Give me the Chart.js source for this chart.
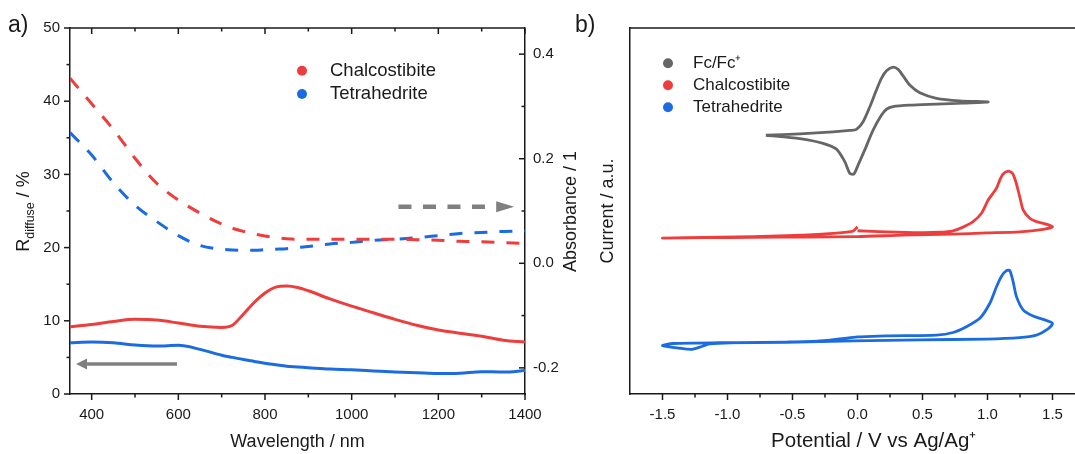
<!DOCTYPE html>
<html>
<head>
<meta charset="utf-8">
<title>Reflectance, absorbance and cyclic voltammetry</title>
<script src="https://cdn.jsdelivr.net/npm/chart.js@4.4.1/dist/chart.umd.min.js"></script>
<style>
  html, body { margin: 0; padding: 0; background: #fff; overflow: hidden; }
  body { width: 1075px; height: 454px; position: relative; }
  canvas { position: absolute; top: 0; }
  #panelA { left: 0; }
  #panelB { left: 540px; }
</style>
</head>
<body>
<canvas id="panelA" width="600" height="454"></canvas>
<canvas id="panelB" width="600" height="454"></canvas>
<script>
// ── Panel a: diffuse reflectance (left axis) and absorbance (right axis) ──

const WAVELENGTH = [350, 400, 450, 500, 550, 600, 650, 700, 725, 750, 775, 800, 825,
  850, 875, 900, 950, 1000, 1050, 1100, 1150, 1200, 1250, 1300, 1350, 1400];
const CHALCO_REFL = [9.2, 9.5, 9.9, 10.2, 10.1, 9.7, 9.25, 9.1, 9.4, 10.9, 12.5, 13.8, 14.6,
  14.75, 14.55, 14.1, 13.0, 12.0, 11.1, 10.2, 9.4, 8.75, 8.3, 7.9, 7.35, 7.1];
const TETRA_REFL = [7.0, 7.1, 7.0, 6.7, 6.55, 6.65, 6.1, 5.3, 5.0, 4.7, 4.45, 4.2, 4.0,
  3.8, 3.7, 3.6, 3.4, 3.3, 3.15, 3.0, 2.9, 2.8, 2.85, 3.05, 3.0, 3.2];
const CHALCO_ABS = [0.354, 0.305, 0.256, 0.201, 0.153, 0.121, 0.096, 0.075, 0.067, 0.061, 0.056, 0.052, 0.049,
  0.047, 0.046, 0.046, 0.046, 0.046, 0.046, 0.046, 0.045, 0.044, 0.042, 0.041, 0.0395, 0.038];
const TETRA_ABS = [0.250, 0.207, 0.154, 0.111, 0.080, 0.053, 0.034, 0.027, 0.0255, 0.025, 0.025, 0.026, 0.027,
  0.028, 0.030, 0.032, 0.037, 0.040, 0.044, 0.046, 0.049, 0.053, 0.057, 0.059, 0.061, 0.062];

const WL_TICKS = [400, 600, 800, 1000, 1200, 1400];
const WL_MINOR = [500, 700, 900, 1100, 1300];
const REFL_TICKS = [0, 10, 20, 30, 40, 50];
const REFL_MINOR = [5, 15, 25, 35, 45];
const ABS_TICKS = [-0.2, 0, 0.2, 0.4];
const ABS_MINOR = [-0.1, 0.1, 0.3];

// ── Panel b: cyclic voltammograms (potential V, current a.u.) ──

const FC_V = [-0.705, -0.444, -0.188, -0.059, -0.008, 0.043, 0.095, 0.146, 0.185, 0.223, 0.274, 0.312,
  0.351, 0.402, 0.479, 0.608, 0.787, 1.005, 0.812, 0.608, 0.402, 0.274, 0.223, 0.185, 0.120, 0.056,
  0.005, -0.028, -0.059, -0.098, -0.162, -0.265, -0.444, -0.705];
const FC_I = [70.7, 71.1, 71.6, 72.0, 72.3, 74.4, 78.5, 83.1, 86.3, 88.3, 89.3, 88.7,
  86.9, 84.4, 82.3, 80.8, 80.1, 79.8, 79.5, 79.2, 78.9, 78.5, 77.8, 76.2, 72.1, 66.7,
  62.6, 60.1, 60.3, 63.5, 66.9, 68.5, 69.8, 70.7];

const CHALCO_V = [0.00, 0.223, 0.479, 0.633, 0.735, 0.812, 0.889, 0.954, 1.005, 1.069, 1.095, 1.120,
  1.158, 1.192, 1.218, 1.248, 1.274, 1.325, 1.377, 1.441, 1.50, 1.428, 1.248, 0.992, 0.735, 0.351,
  0.00, -0.418, -0.803, -1.188, -1.50, -1.315, -0.803, -0.418, -0.188, -0.034, 0.00];
const CHALCO_I = [44.6, 44.3, 44.1, 44.2, 44.6, 45.6, 47.1, 49.4, 53.0, 56.2, 58.5, 60.1,
  60.9, 60.3, 58.0, 53.9, 50.3, 48.0, 47.1, 46.5, 45.7, 45.0, 44.3, 44.0, 43.7, 43.4,
  43.0, 42.9, 42.8, 42.7, 42.6, 42.7, 43.0, 43.4, 43.9, 44.5, 45.7];

const TETRA_V = [0.00, 0.223, 0.608, 0.735, 0.838, 0.941, 1.018, 1.069, 1.108, 1.146, 1.172, 1.197,
  1.223, 1.274, 1.351, 1.428, 1.50, 1.454, 1.377, 1.248, 0.992, 0.479, -0.034, -0.546, -1.059,
  -1.418, -1.50, -1.367, -1.277, -1.213, -1.136, -0.931, -0.546, -0.290, 0.00];
const TETRA_I = [15.6, 15.9, 16.1, 16.8, 18.4, 20.7, 24.8, 29.3, 32.2, 33.7, 33.7, 30.7,
  26.6, 23.0, 21.3, 20.4, 19.3, 17.5, 16.1, 15.4, 15.0, 14.8, 14.5, 14.1, 14.0,
  13.8, 13.2, 12.5, 12.2, 12.8, 13.7, 14.0, 14.2, 14.5, 15.6];

const POT_TICKS = [-1.5, -1, -0.5, 0, 0.5, 1, 1.5];
const POT_MINOR = [-1.25, -0.75, -0.25, 0.25, 0.75, 1.25, 1.75];

// ── Styling ────────────────────────────────────────────────────────

const FONT = "'Liberation Sans', Arial, Helvetica, sans-serif";
const INK = '#1a1a1a';
const RED = '#ee3d3d';
const BLUE = '#1c6be0';
const GREY = '#666666';
const ARROW_GREY = '#808080';

Chart.defaults.font.family = FONT;
Chart.defaults.color = INK;

// guide arrows: which axis each one belongs to
const ARROWS = [
  { yScale: 'abs', from: 1108, to: 1375, y: 0.108, dashed: true },
  { yScale: 'refl', from: 597, to: 364, y: 4.1, dashed: false },
];

const pts = (xs, ys) => xs.map((x, i) => ({ x, y: ys[i] }));
const fixedTicks = values => scale => { scale.ticks = values.map(value => ({ value })); };

// ── Drawing helpers ────────────────────────────────────────────────

const OUTWARD = { bottom: [0, 1], top: [0, -1], left: [-1, 0], right: [1, 0] };

function drawTicks(ctx, chart, { scale, side, inward, major, minor }) {
  const area = chart.chartArea;
  const s = chart.scales[scale];
  const [dx, dy] = OUTWARD[side];
  const sign = inward ? -1 : 1;
  const edge = area[side];
  const mark = len => v => {
    const p = s.getPixelForValue(v);
    const x = dx ? edge : p;
    const y = dy ? edge : p;
    ctx.beginPath();
    ctx.moveTo(x, y);
    ctx.lineTo(x + dx * sign * len, y + dy * sign * len);
    ctx.stroke();
  };
  major.forEach(mark(6));
  minor.forEach(mark(3.5));
}

function frame(tickSpecs) {
  return {
    id: 'frame',
    afterDraw(chart) {
      const { ctx, chartArea: a } = chart;
      ctx.save();
      ctx.strokeStyle = INK;
      ctx.lineWidth = 1.5;
      ctx.beginPath();
      ctx.moveTo(a.left, a.top);
      ctx.lineTo(a.right, a.top);
      ctx.stroke();
      tickSpecs.forEach(spec => drawTicks(ctx, chart, spec));
      ctx.restore();
    },
  };
}

function drawLegend(ctx, items, { x, y, gap, textX, size }) {
  ctx.save();
  ctx.font = `${size}px ${FONT}`;
  ctx.textBaseline = 'middle';
  ctx.textAlign = 'left';
  items.forEach((it, i) => {
    const cy = y + i * gap;
    ctx.fillStyle = it.color;
    ctx.beginPath();
    ctx.arc(x, cy, 5, 0, Math.PI * 2);
    ctx.fill();
    ctx.fillStyle = INK;
    ctx.fillText(it.label, textX, cy);
  });
  ctx.restore();
}

// vertical text reading bottom-to-top, centred on (cx, cy); parts allow a subscript
function drawRotated(ctx, cx, cy, parts) {
  ctx.save();
  ctx.translate(cx, cy);
  ctx.rotate(-Math.PI / 2);
  ctx.textBaseline = 'alphabetic';
  ctx.textAlign = 'left';
  ctx.fillStyle = INK;
  const widths = parts.map(p => { ctx.font = `${p.size}px ${FONT}`; return ctx.measureText(p.text).width; });
  let x = -widths.reduce((s, w) => s + w, 0) / 2;
  parts.forEach((p, i) => {
    ctx.font = `${p.size}px ${FONT}`;
    ctx.fillText(p.text, x, p.dy);
    x += widths[i];
  });
  ctx.restore();
}

function drawArrow(ctx, chart, { yScale, from, to, y, dashed }) {
  const xs = chart.scales.x;
  const ys = chart.scales[yScale];
  const x1 = xs.getPixelForValue(from);
  const x2 = xs.getPixelForValue(to);
  const py = ys.getPixelForValue(y);
  const dir = Math.sign(x2 - x1);
  const head = dashed ? 18 : 11;
  const half = 5.5;
  ctx.save();
  ctx.strokeStyle = ARROW_GREY;
  ctx.fillStyle = ARROW_GREY;
  ctx.lineWidth = dashed ? 4.5 : 3.5;
  ctx.setLineDash(dashed ? [13, 11.5] : []);
  ctx.beginPath();
  ctx.moveTo(x1, py);
  ctx.lineTo(x2 - dir * head, py);
  ctx.stroke();
  ctx.setLineDash([]);
  ctx.beginPath();
  ctx.moveTo(x2, py);
  ctx.lineTo(x2 - dir * head, py - half);
  ctx.lineTo(x2 - dir * head, py + half);
  ctx.closePath();
  ctx.fill();
  ctx.restore();
}

function drawLetter(ctx, text, x, y) {
  ctx.save();
  ctx.font = `23px ${FONT}`;
  ctx.fillStyle = INK;
  ctx.textBaseline = 'alphabetic';
  ctx.fillText(text, x, y);
  ctx.restore();
}

const tickFont = { size: 15 };
const noGrid = { display: false, drawTicks: false };
const axisLine = { display: true, color: INK, width: 1.5 };

// ── Panel a chart ──────────────────────────────────────────────────

new Chart(document.getElementById('panelA'), {
  type: 'line',
  data: {
    datasets: [
      { label: 'Chalcostibite', data: pts(WAVELENGTH, CHALCO_REFL), yAxisID: 'refl', borderColor: RED },
      { label: 'Tetrahedrite', data: pts(WAVELENGTH, TETRA_REFL), yAxisID: 'refl', borderColor: BLUE },
      { label: 'Chalcostibite abs', data: pts(WAVELENGTH, CHALCO_ABS), yAxisID: 'abs', borderColor: RED, borderDash: [13, 12] },
      { label: 'Tetrahedrite abs', data: pts(WAVELENGTH, TETRA_ABS), yAxisID: 'abs', borderColor: BLUE, borderDash: [13, 12] },
    ],
  },
  options: {
    responsive: false,
    animation: false,
    layout: { padding: { top: 28, left: 0, right: 0, bottom: 0 } },
    elements: {
      point: { radius: 0 },
      line: { borderWidth: 3, cubicInterpolationMode: 'monotone', fill: false },
    },
    plugins: { legend: { display: false }, tooltip: { enabled: false } },
    scales: {
      x: {
        type: 'linear', position: 'bottom', min: 350, max: 1400,
        afterFit: s => { s.height = 60; },
        afterBuildTicks: fixedTicks(WL_TICKS),
        grid: noGrid, border: axisLine,
        ticks: { padding: 11.5, font: tickFont, color: INK, autoSkip: false, maxRotation: 0, callback: v => String(v) },
        title: { display: true, text: 'Wavelength / nm', font: { size: 18 }, color: INK, padding: { top: 0, bottom: 1 } },
      },
      refl: {
        type: 'linear', position: 'left', min: 0, max: 50,
        afterFit: s => { s.width = 70; },
        afterBuildTicks: fixedTicks(REFL_TICKS),
        grid: noGrid, border: axisLine,
        ticks: { padding: 10, font: tickFont, color: INK, autoSkip: false, callback: v => String(v) },
      },
      abs: {
        type: 'linear', position: 'right', min: -0.25, max: 0.45,
        afterFit: s => { s.width = 75; },
        afterBuildTicks: fixedTicks(ABS_TICKS),
        grid: noGrid, border: axisLine,
        ticks: { padding: 8, font: tickFont, color: INK, autoSkip: false, callback: v => v.toFixed(1) },
      },
    },
  },
  plugins: [
    frame([
      { scale: 'x', side: 'bottom', inward: false, major: WL_TICKS, minor: WL_MINOR },
      { scale: 'x', side: 'top', inward: true, major: WL_TICKS, minor: WL_MINOR },
      { scale: 'refl', side: 'left', inward: false, major: REFL_TICKS, minor: REFL_MINOR },
      { scale: 'abs', side: 'right', inward: true, major: ABS_TICKS, minor: ABS_MINOR },
    ]),
    {
      id: 'panelAExtras',
      afterDraw(chart) {
        const { ctx } = chart;
        const ds = chart.data.datasets;
        ARROWS.forEach(arrow => drawArrow(ctx, chart, arrow));
        drawLegend(ctx, [ds[0], ds[1]].map(d => ({ label: d.label, color: d.borderColor })),
          { x: 302, y: 70.7, gap: 23.3, textX: 330, size: 18.5 });
        drawRotated(ctx, 23, 211.5, [
          { text: 'R', size: 18, dy: 6.4 },
          { text: 'diffuse', size: 12.5, dy: 10.6 },
          { text: ' / %', size: 18, dy: 6.4 },
        ]);
        drawRotated(ctx, 569.5, 211.5, [{ text: 'Absorbance / 1', size: 18, dy: 6.4 }]);
        drawLetter(ctx, 'a)', 8, 32);
      },
    },
  ],
});

// ── Panel b chart ──────────────────────────────────────────────────

new Chart(document.getElementById('panelB'), {
  type: 'line',
  data: {
    datasets: [
      { label: 'Fc/Fc⁺', data: pts(FC_V, FC_I), borderColor: GREY },
      { label: 'Chalcostibite', data: pts(CHALCO_V, CHALCO_I), borderColor: RED },
      { label: 'Tetrahedrite', data: pts(TETRA_V, TETRA_I), borderColor: BLUE },
    ],
  },
  options: {
    responsive: false,
    animation: false,
    layout: { padding: { top: 28, left: 0, right: 22.5, bottom: 0 } },
    elements: {
      point: { radius: 0 },
      line: { borderWidth: 2.8, tension: 0.25, fill: false },
    },
    plugins: { legend: { display: false }, tooltip: { enabled: false } },
    scales: {
      x: {
        type: 'linear', position: 'bottom', min: -1.75, max: 2.0,
        afterFit: s => { s.height = 60; },
        afterBuildTicks: fixedTicks(POT_TICKS),
        grid: noGrid, border: axisLine,
        ticks: { padding: 11.5, font: tickFont, color: INK, autoSkip: false, maxRotation: 0, callback: v => v.toFixed(1) },
        title: { display: true, text: 'Potential / V vs Ag/Ag⁺', font: { size: 20.5 }, color: INK, padding: { top: 0, bottom: 0.5 } },
      },
      y: {
        type: 'linear', position: 'left', min: 0, max: 100,
        afterFit: s => { s.width = 90; },
        afterBuildTicks: fixedTicks([]),
        grid: noGrid, border: axisLine,
        ticks: { display: false },
        title: { display: true, text: 'Current / a.u.', font: { size: 18 }, color: INK, padding: { top: 57.7, bottom: 0 } },
      },
    },
  },
  plugins: [
    frame([
      { scale: 'x', side: 'bottom', inward: false, major: POT_TICKS, minor: POT_MINOR },
    ]),
    {
      id: 'panelBExtras',
      afterDraw(chart) {
        const { ctx } = chart;
        drawLegend(ctx, chart.data.datasets.map(d => ({ label: d.label, color: d.borderColor })),
          { x: 128, y: 63.3, gap: 22, textX: 153, size: 17 });
        drawLetter(ctx, 'b)', 35, 32);
      },
    },
  ],
});
</script>
</body>
</html>
